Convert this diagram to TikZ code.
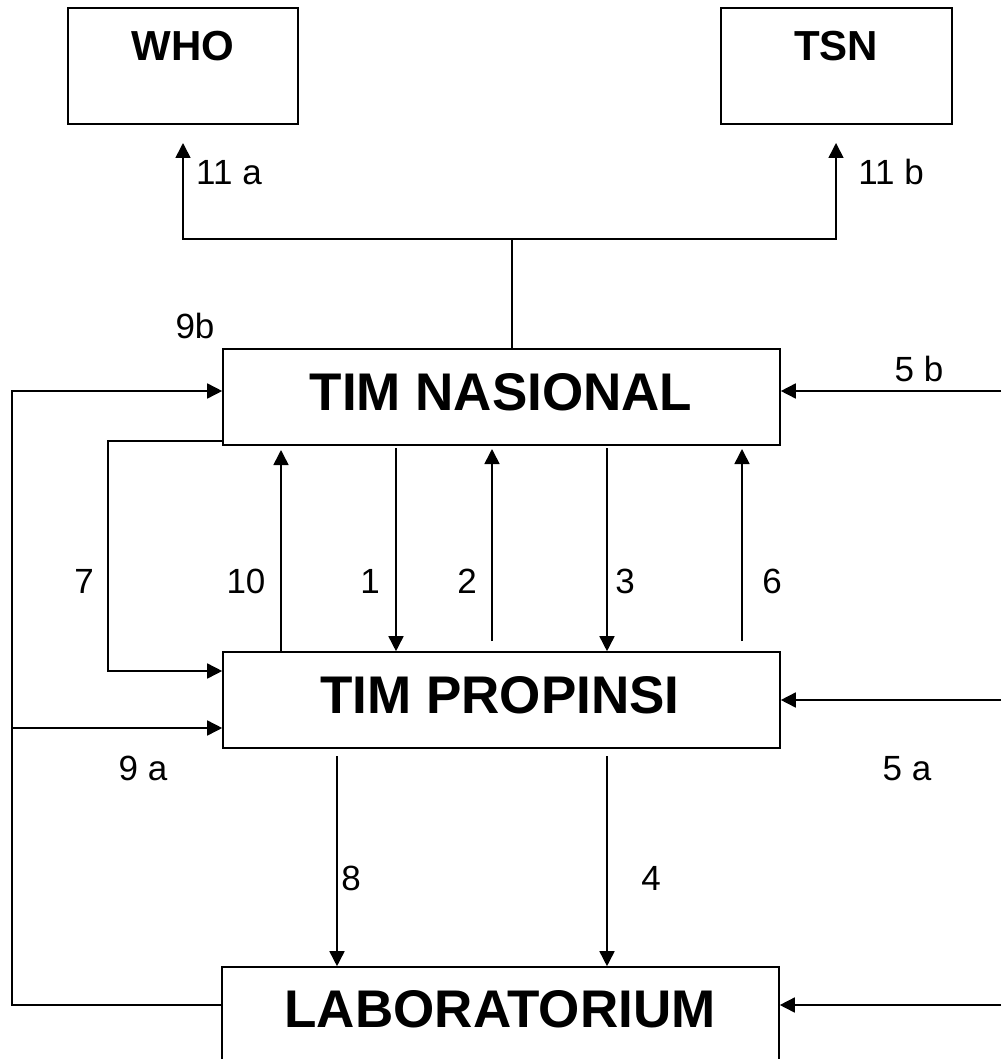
\documentclass[tikz,border=0pt]{standalone}
\usepackage{fontspec}
\setmainfont{Liberation Sans}
\usetikzlibrary{arrows.meta}
\tikzset{
  box/.style={draw, line width=1.6pt, rectangle, inner sep=0pt},
  bigtxt/.style={inner sep=0pt, anchor=base, font=\fontsize{53}{60}\selectfont\bfseries},
  toptxt/.style={inner sep=0pt, anchor=base, font=\fontsize{42}{50}\selectfont\bfseries},
  num/.style={inner sep=0pt, anchor=base, font=\fontsize{35}{42}\selectfont},
  conn/.style={line width=1.6pt},
  arr/.style={line width=1.6pt, -{Triangle[length=15pt,width=15pt]}}
}
\begin{document}
\begin{tikzpicture}[x=1pt,y=-1pt]
\useasboundingbox (0,0) rectangle (1001,1059);
\clip (0,0) rectangle (1001,1059);
% boxes
\node[box, minimum width=230pt, minimum height=116pt] (who) at (183,66) {};
\node[box, minimum width=231pt, minimum height=116pt] (tsn) at (836.5,66) {};
\node[box, minimum width=557pt, minimum height=96pt] (nas) at (501.5,397) {};
\node[box, minimum width=557pt, minimum height=96pt] (prop) at (501.5,700) {};
\node[box, minimum width=557pt, minimum height=150pt] (lab) at (500.5,1042) {};
% box texts
\node[toptxt] (whot) at (183,61) {WHO};
\node[toptxt] (tsnt) at (836,61) {TSN};
\node[bigtxt] (nast) at (501,410) {TIM NASIONAL};
\node[bigtxt] (propt) at (500,713) {TIM PROPINSI};
\node[bigtxt] (labt) at (500,1027) {LABORATORIUM};
% coordinates
\coordinate (top) at (512,239);
\coordinate (wa) at (183,239);
\coordinate (ta) at (836,239);
\coordinate (whotip) at (183,143);
\coordinate (tsntip) at (836,143);
\coordinate (lx) at (12,1005);
\coordinate (r5b) at (1001,391);
\coordinate (r5a) at (1001,700);
\coordinate (rlab) at (1001,1005);
\coordinate (b7) at (108,441);
\coordinate (c10) at (281,450);
\coordinate (c1) at (396,448);
\coordinate (c2) at (492,641);
\coordinate (c3) at (607,448);
\coordinate (c6) at (742,641);
\coordinate (c8) at (337,756);
\coordinate (c4) at (607,756);
% 11 a / 11 b
\draw[conn] (nas.north -| top) -- (top);
\draw[arr] (ta) -- (wa) -- (whotip);
\draw[arr] (wa) -- (ta) -- (tsntip);
% 9a / 9b
\draw[arr] (lab.west |- lx) -- (lx) -- (12,391) -- (nas.west |- r5b);
\draw[arr] (12,728) -- (prop.west |- 12,728);
% 7
\draw[arr] (nas.west |- b7) -- (b7) -- (108,671) -- (prop.west |- 108,671);
% vertical arrows between nasional and propinsi
\draw[arr] (prop.north -| c10) -- (c10);
\draw[arr] (c1) -- (c1 |- prop.north);
\draw[arr] (c2) -- (c2 |- 0,449);
\draw[arr] (c3) -- (c3 |- prop.north);
\draw[arr] (c6) -- (c6 |- 0,449);
% 5a / 5b / lab
\draw[arr] (r5b) -- (nas.east |- r5b);
\draw[arr] (r5a) -- (prop.east |- r5a);
\draw[arr] (rlab) -- (lab.east |- rlab);
% 8 / 4
\draw[arr] (c8) -- (c8 |- lab.north);
\draw[arr] (c4) -- (c4 |- lab.north);
% labels
\node[num] (l11a) at (229,185) {11 a};
\node[num] (l11b) at (891,185) {11 b};
\node[num] (l9b) at (195,338) {9b};
\node[num] (l5b) at (919,381) {5 b};
\node[num] (l7) at (84,593) {7};
\node[num] (l10) at (246,593) {10};
\node[num] (l1) at (370,593) {1};
\node[num] (l2) at (467,593) {2};
\node[num] (l3) at (625,593) {3};
\node[num] (l6) at (772,593) {6};
\node[num] (l9a) at (143,780) {9 a};
\node[num] (l5a) at (907,780) {5 a};
\node[num] (l8) at (351,890) {8};
\node[num] (l4) at (651,890) {4};
\end{tikzpicture}
\end{document}
